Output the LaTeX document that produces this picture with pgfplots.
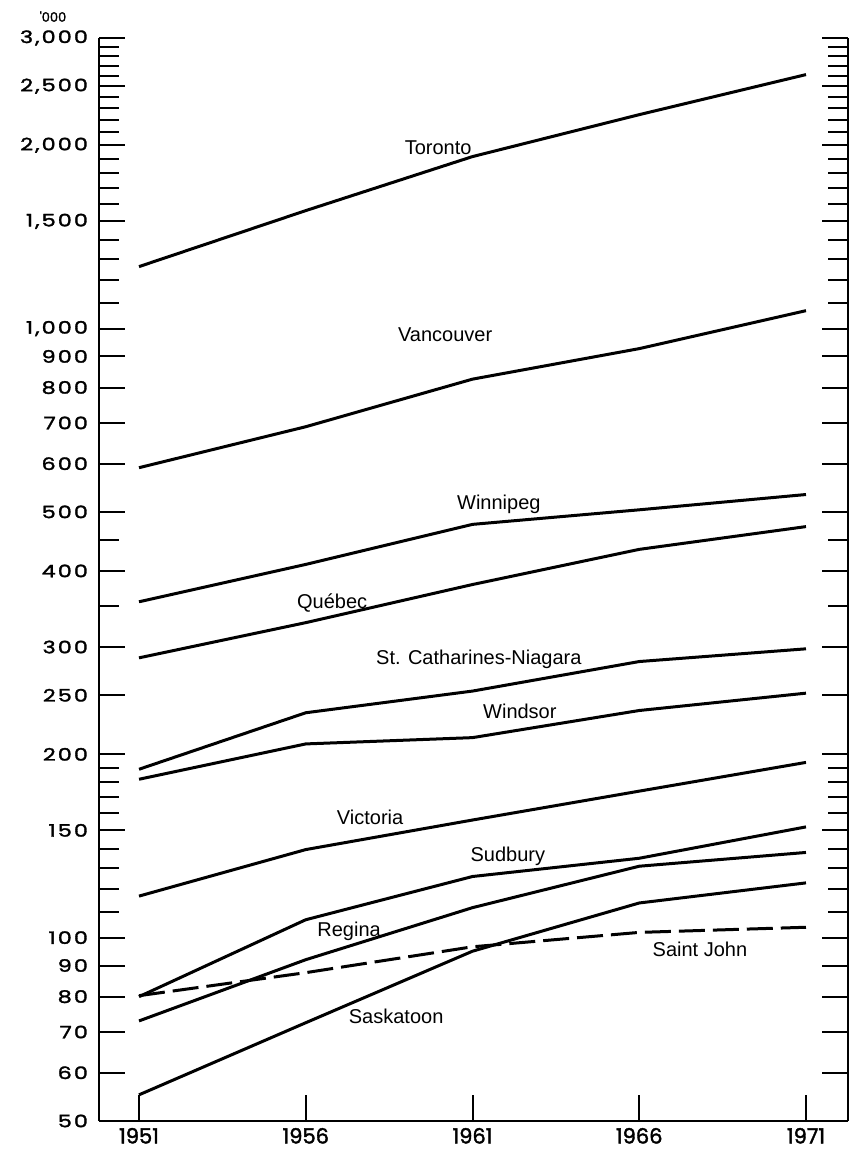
\documentclass[border=0pt]{standalone}
\usepackage{fontspec}
\setmainfont{Liberation Sans}
\newfontfamily\ylabfont[FakeStretch=1.3,LetterSpace=12,FakeBold=1.8]{Poppins}
\newfontfamily\xlabfont[FakeBold=1.8]{Poppins}
\usepackage{pgfplots}
\pgfplotsset{compat=1.18}
\usepackage{pgfplotstable}

% census metropolitan areas, population in thousands
\pgfplotstableread{
year toronto vancouver winnipeg quebec stcath windsor victoria sudbury regina saskatoon saintjohn
1951 1264 591 356 288 189 182 117 80 73 55.2 80.3
1956 1562 690 410 329 234 208 139.5 107 92 72.5 87.6
1961 1916 826 477 380 254 213 156 126 112 95 96.6
1966 2245 927 504 434 284 236 174 135 131 114 102
1971 2612 1070 534 473 298 252 194 152 138 123 104
}\cities

\begin{document}
\begin{tikzpicture}
\path[use as bounding box] (-49.5pt,-17pt) rectangle (377.5pt,560.5pt);
\begin{axis}[
    scale only axis,
    width=374.5pt, height=541.5pt,
    xmin=1949.8, xmax=1972.26,
    ymode=log, ymin=50, ymax=3000,
    axis x line=bottom, axis y line=box,
    axis line style={-, line width=1pt},
    clip=false,
    tick align=inside,
    major tick length=13pt, minor tick length=10pt,
    every tick/.style={black, line width=1pt},
    yticklabel pos=left,
    xtick={1951,1956,1961,1966,1971},
    xticklabels={1951,1956,1961,1966,1971},
    ytick={50,60,70,80,90,100,150,200,250,300,400,500,600,700,800,900,1000,1500,2000,2500,3000},
    yticklabels={50,60,70,80,90,100,150,200,250,300,400,500,600,700,800,900,{1,000},{1,500},{2,000},{2,500},{3,000}},
    minor ytick={110,120,130,140,160,170,180,190,350,450,1100,1200,1300,1400,1600,1700,1800,1900,2100,2200,2300,2400,2600,2700,2800,2900},
    yticklabel style={font=\ylabfont\fontsize{8.6}{10}\selectfont, xshift=-2pt},
    xticklabel style={font=\xlabfont\fontsize{10.5}{12}\selectfont},
    cycle list={{black, solid, mark=none}},
    every axis plot/.append style={line width=1.5pt, line join=round},
    label/.style={font=\fontsize{9}{11}\selectfont},
]
\addplot table[x=year, y=toronto] {\cities};
\addplot table[x=year, y=vancouver] {\cities};
\addplot table[x=year, y=winnipeg] {\cities};
\addplot table[x=year, y=quebec] {\cities};
\addplot table[x=year, y=stcath] {\cities};
\addplot table[x=year, y=windsor] {\cities};
\addplot table[x=year, y=victoria] {\cities};
\addplot table[x=year, y=sudbury] {\cities};
\addplot table[x=year, y=regina] {\cities};
\addplot table[x=year, y=saskatoon] {\cities};
\addplot+[dash pattern=on 13pt off 4pt] table[x=year, y=saintjohn] {\cities};

\node[label] at (axis cs:1959.97,1983) {Toronto};
\node[label] at (axis cs:1960.18,977) {Vancouver};
\node[label] at (axis cs:1961.79,514) {Winnipeg};
\node[label] at (axis cs:1956.79,355) {Québec};
\node[label] at (axis cs:1961.19,286) {St. Catharines-Niagara};
\node[label] at (axis cs:1962.42,235) {Windsor};
\node[label] at (axis cs:1957.93,157.4) {Victoria};
\node[label] at (axis cs:1962.06,135.8) {Sudbury};
\node[label] at (axis cs:1957.30,102.3) {Regina};
\node[label] at (axis cs:1967.82,95.6) {Saint John};
\node[label] at (axis cs:1958.71,74.2) {Saskatoon};
\node[font=\xlabfont\fontsize{6.5}{7}\selectfont] at (axis cs:1948.42,3253) {'000};
\end{axis}
\end{tikzpicture}
\end{document}
